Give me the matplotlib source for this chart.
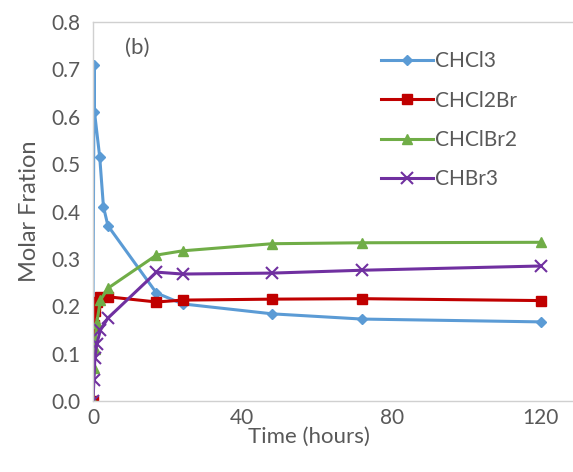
import matplotlib
matplotlib.use("Agg")
import matplotlib.pyplot as plt

# data (time in hours, molar fraction)
t_chcl3 = [0, 0.3, 0.4, 1.8, 2.8, 4, 17, 24, 48, 72, 120]
chcl3 = [0.21, 0.71, 0.61, 0.515, 0.41, 0.37, 0.228, 0.205, 0.184, 0.173, 0.167]

t_other = [0, 0.25, 0.5, 1, 2, 4, 17, 24, 48, 72, 120]
chcl2br = [0.0, 0.16, 0.19, 0.21, 0.22, 0.22, 0.209, 0.213, 0.215, 0.216, 0.212]
chclbr2 = [0.0, 0.07, 0.11, 0.165, 0.213, 0.238, 0.308, 0.317, 0.332, 0.334, 0.335]
chbr3 = [0.0, 0.045, 0.09, 0.12, 0.15, 0.175, 0.272, 0.268, 0.27, 0.276, 0.285]

x_ticks = [0, 40, 80, 120]
y_ticks = [0.0, 0.1, 0.2, 0.3, 0.4, 0.5, 0.6, 0.7, 0.8]

plt.rcParams['font.family'] = ['Lato', 'DejaVu Sans']
txt = '#595959'
spine_c = '#D0D0D0'

fig = plt.figure(figsize=(5.73, 4.72), dpi=100)
ax = fig.add_axes([0.1623, 0.1504, 0.912, 0.803])

ax.plot(t_chcl3, chcl3, color='#5B9BD5', lw=2.2, marker='D', ms=5, label='CHCl3')
ax.plot(t_other, chcl2br, color='#C00000', lw=2.2, marker='s', ms=7, label='CHCl2Br')
ax.plot(t_other, chclbr2, color='#70AD47', lw=2.2, marker='^', ms=7, label='CHClBr2')
ax.plot(t_other, chbr3, color='#7030A0', lw=2.2, marker='x', ms=8, mew=1.5, label='CHBr3')

ax.set_xlim(0, 140)
ax.set_ylim(0, 0.8)
ax.set_xticks(x_ticks)
ax.set_yticks(y_ticks)
ax.set_yticklabels([f"{v:.1f}" for v in y_ticks])
ax.tick_params(length=0, labelsize=15, colors=txt)
ax.tick_params(axis='y', pad=9)
ax.tick_params(axis='x', pad=5)
for s in ['left', 'bottom', 'top', 'right']:
    ax.spines[s].set_color(spine_c)
    ax.spines[s].set_linewidth(1)

ax.set_ylabel("Molar Fration", fontsize=17, color=txt, labelpad=8)
fig.text(0.54, 0.075, "Time (hours)", fontsize=16, color=txt, ha='center', va='center')
ax.text(0.062, 0.915, "(b)", transform=ax.transAxes, fontsize=16, color=txt)

ax.legend(loc='upper left', bbox_to_anchor=(0.515, 0.972), frameon=False,
          fontsize=15, labelcolor=txt, handlelength=2.5, handletextpad=0.1,
          labelspacing=0.93)

fig.savefig("out.png", dpi=100)
